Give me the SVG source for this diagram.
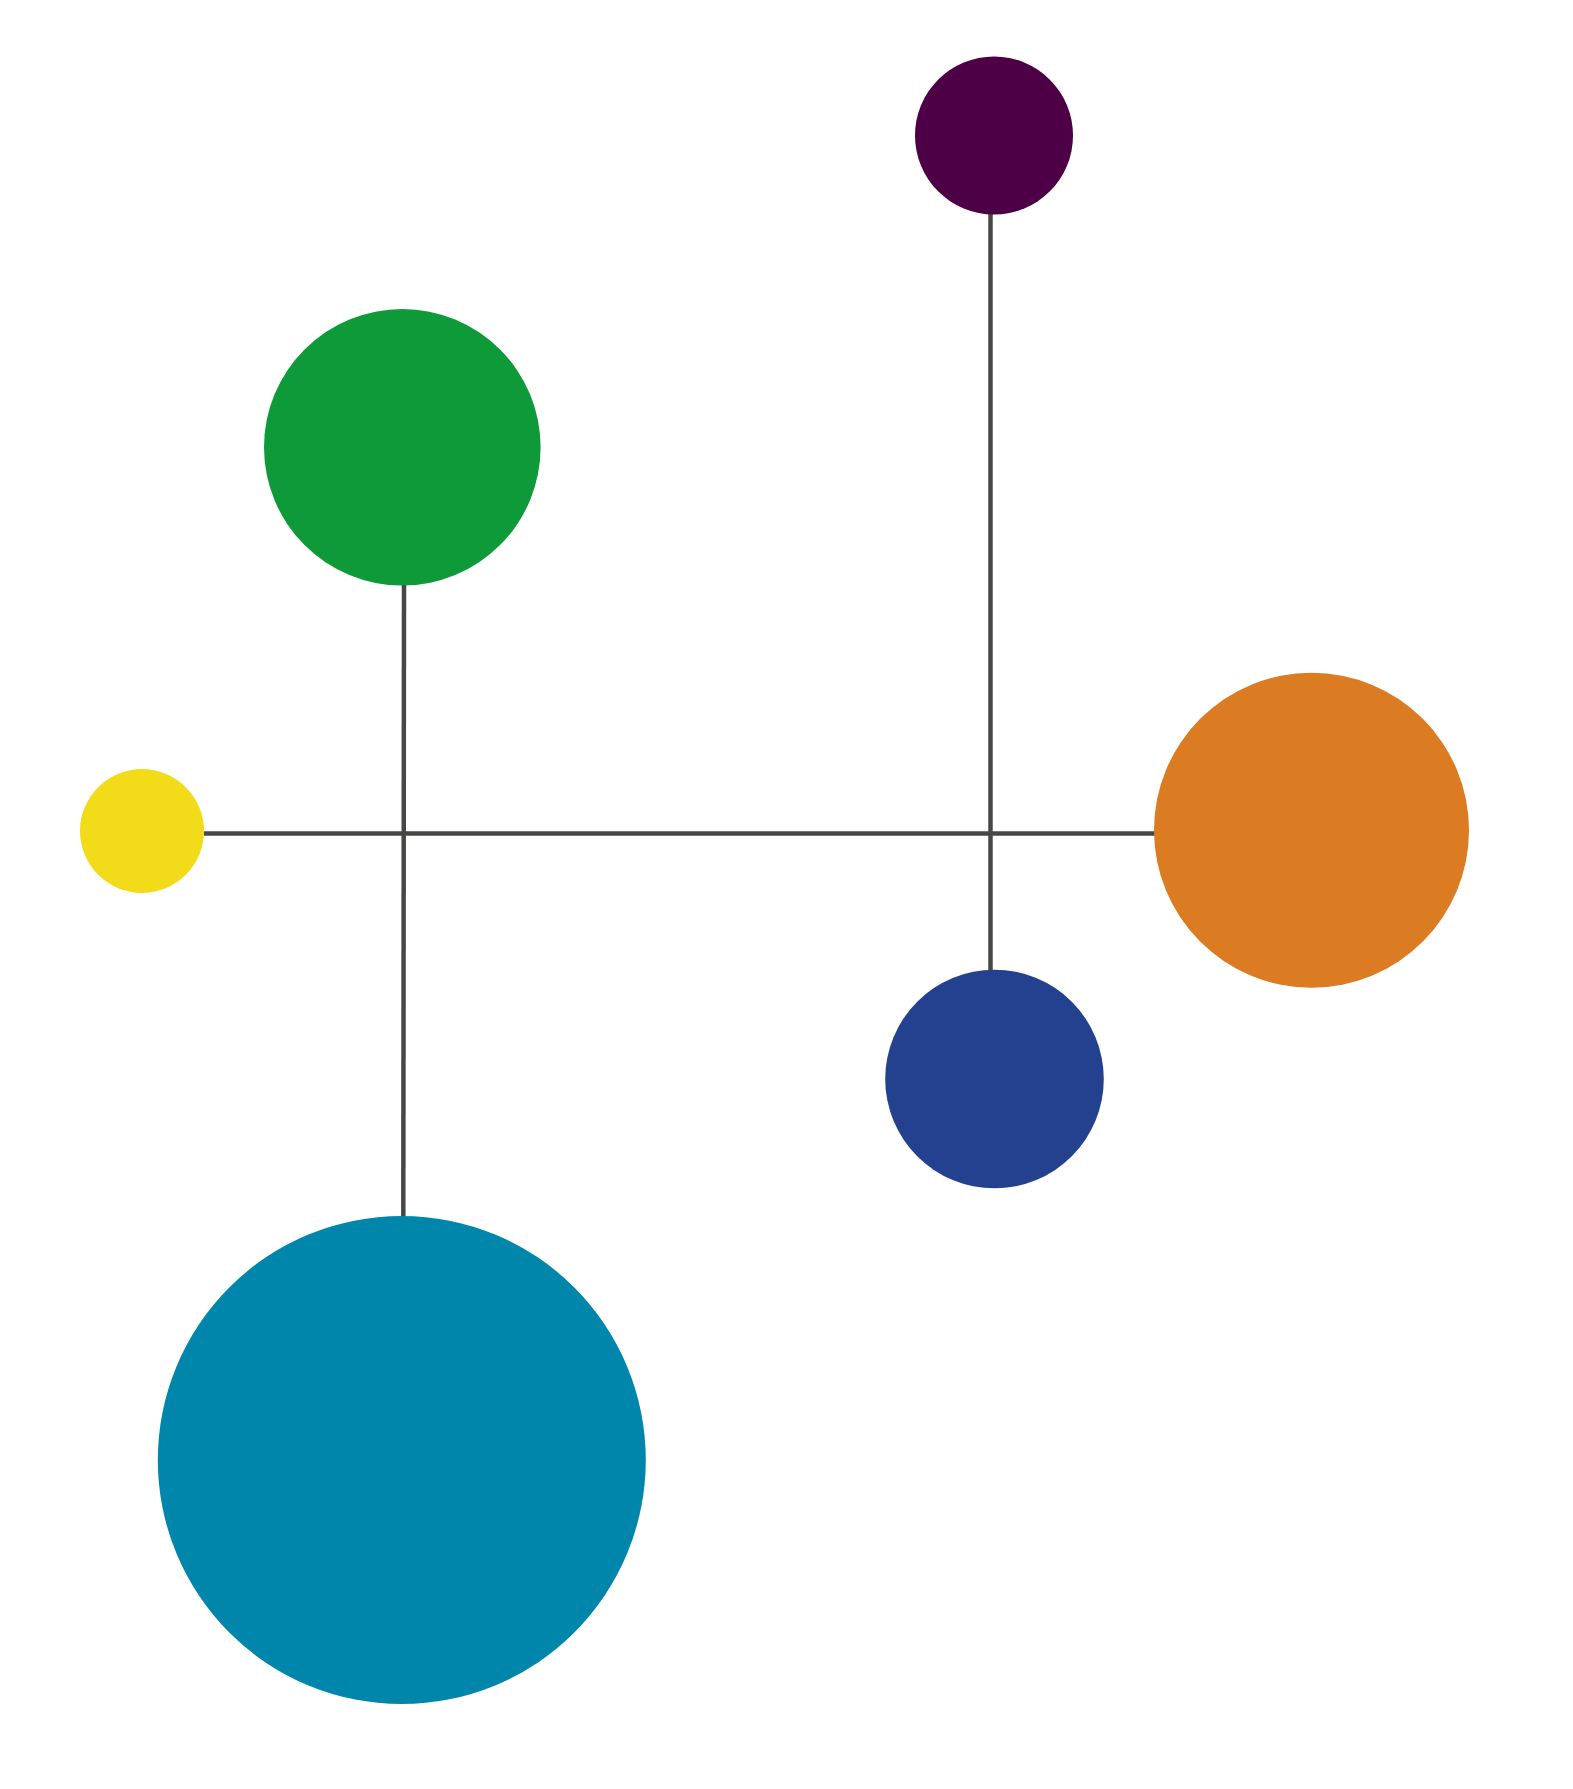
<svg xmlns="http://www.w3.org/2000/svg" width="1573" height="1789" viewBox="0 0 1573 1789">
<style>
.edge{stroke:#474743;stroke-width:4.5;fill:none}
</style>
<rect width="1573" height="1789" fill="#ffffff"/>
<g id="connectors">
<line class="edge" x1="204" y1="833.5" x2="1155" y2="833.5"/>
<line class="edge" x1="404" y1="585" x2="403.3" y2="1217"/>
<line class="edge" x1="990.5" y1="213" x2="990.5" y2="971"/>
</g>
<g id="node-purple"><circle cx="994" cy="135.5" r="79" fill="#4d0045"/></g>
<g id="node-green"><circle cx="402.3" cy="447.3" r="138.3" fill="#0f9a3a"/></g>
<g id="node-yellow"><circle cx="142" cy="831" r="62" fill="#f2dc1a"/></g>
<g id="node-orange"><circle cx="1311.5" cy="830.2" r="157.5" fill="#db7b22"/></g>
<g id="node-blue"><circle cx="994.5" cy="1079" r="109.3" fill="#23418e"/></g>
<g id="node-teal"><circle cx="401.8" cy="1460" r="244" fill="#0085ab"/></g>
</svg>
